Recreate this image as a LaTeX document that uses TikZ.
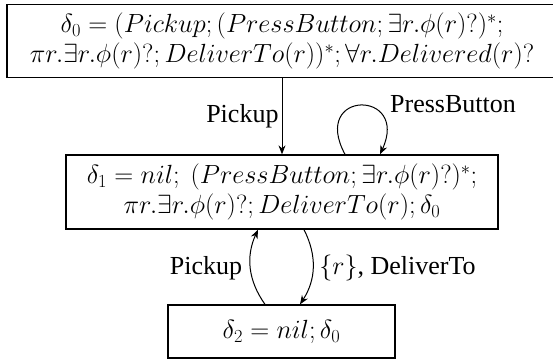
\RequirePackage{fix-cm}
\documentclass[tikz,border=0pt]{standalone}
\usepackage{fontspec}
\setmainfont{Liberation Serif}
\usetikzlibrary{arrows.meta}
\begin{document}
\begin{tikzpicture}[x=1pt,y=1pt,
  box/.style={draw, line width=1.3pt, align=center, inner sep=0pt, font=\fontsize{26.3}{30}\selectfont},
  lbl/.style={font=\fontsize{26}{30}\selectfont, inner sep=3pt},
  arr/.style={-{Stealth[length=9pt,width=7pt]}, line width=1pt}]
\useasboundingbox (0,0) rectangle (553,-362);
\node[box, minimum width=550pt, minimum height=73pt] (d0) at (282,-41)
  {$\delta_0 = (Pickup; (PressButton; \exists r.\phi(r)?)^*;$\\
   $\pi r.\exists r.\phi(r)?; DeliverTo(r))^*; \forall r.Delivered(r)?$};
\node[box, minimum width=432pt, minimum height=74pt] (d1) at (282,-192)
  {$\delta_1 = nil;\ (PressButton; \exists r.\phi(r)?)^*;$\\
   $\pi r.\exists r.\phi(r)?; DeliverTo(r); \delta_0$};
\node[box, minimum width=227pt, minimum height=53pt] (d2) at (281.5,-331.5)
  {$\delta_2 = nil; \delta_0$};
\draw[arr] (d0.south) -- node[lbl, left] (l1) {Pickup} (d1.north);
\draw[arr] ([xshift=63pt]d1.north) .. controls +(-35,65) and +(30,65) .. ([xshift=98pt]d1.north);
\node[lbl] (l2) at (453,-104) {PressButton};
\draw[arr] ([xshift=-16.5pt]d2.north) to[bend left=30] node[lbl, left, xshift=-5pt] (l3) {Pickup} ([xshift=-24pt]d1.south);
\draw[arr] ([xshift=22pt]d1.south) to[bend left=30] node[lbl, right, xshift=3pt] (l4) {$\{r\}$, DeliverTo} ([xshift=18.5pt]d2.north);
\end{tikzpicture}
\end{document}
